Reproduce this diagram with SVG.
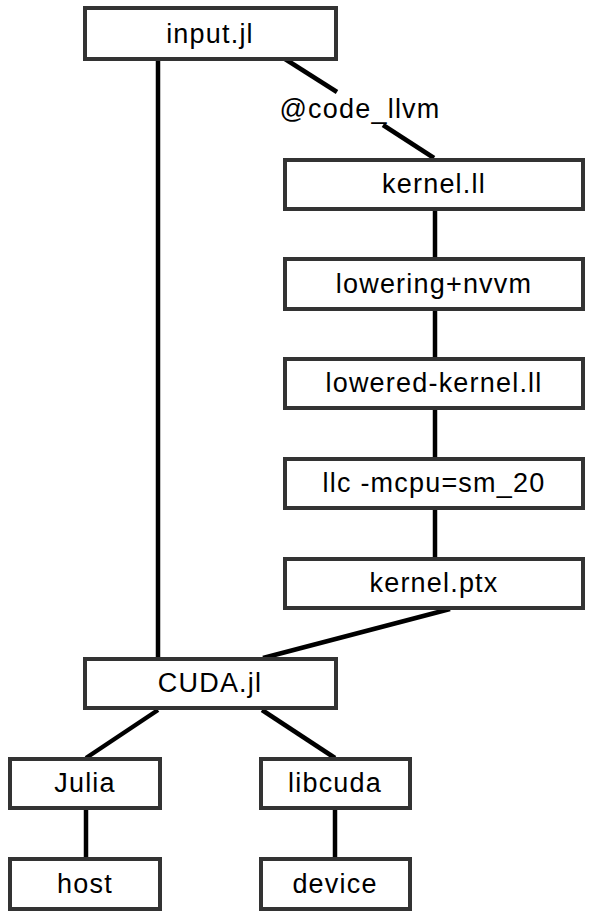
<svg xmlns="http://www.w3.org/2000/svg" width="592" height="916" viewBox="0 0 592 916">
<style>
.box{fill:#fff;stroke:#333;stroke-width:4}
.lbl{font-family:"Liberation Sans",Arial,sans-serif;font-size:27px;letter-spacing:1.2px;text-anchor:middle;fill:#000}
.edge{stroke:#000;stroke-width:4.5;fill:none}
</style>
<rect width="592" height="916" fill="#fff"/>
<g id="connectors">
<line class="edge" x1="158" y1="61" x2="158" y2="657"/>
<line class="edge" x1="285" y1="59" x2="337" y2="92"/>
<line class="edge" x1="383" y1="125" x2="434" y2="158"/>
<text class="lbl" x="360" y="118">@code_llvm</text>
<line class="edge" x1="435" y1="211" x2="435" y2="257"/>
<line class="edge" x1="435" y1="311" x2="435" y2="357"/>
<line class="edge" x1="435" y1="410" x2="435" y2="457"/>
<line class="edge" x1="435" y1="510" x2="435" y2="557"/>
<line class="edge" x1="450" y1="609" x2="263" y2="658"/>
<line class="edge" x1="158" y1="710" x2="86" y2="758"/>
<line class="edge" x1="262" y1="710" x2="335" y2="758"/>
<line class="edge" x1="86" y1="810" x2="86" y2="857"/>
<line class="edge" x1="335" y1="810" x2="335" y2="857"/>
</g>
<g id="input"><rect class="box" x="85" y="8" width="251" height="51"/><text class="lbl" x="210" y="43">input.jl</text></g>
<g id="kernel_ll"><rect class="box" x="285" y="160" width="298" height="49"/><text class="lbl" x="434" y="193">kernel.ll</text></g>
<g id="lowering"><rect class="box" x="285" y="259" width="298" height="50"/><text class="lbl" x="434" y="293">lowering+nvvm</text></g>
<g id="lowered"><rect class="box" x="285" y="359" width="298" height="49"/><text class="lbl" x="434" y="392">lowered-kernel.ll</text></g>
<g id="llc"><rect class="box" x="285" y="459" width="298" height="49"/><text class="lbl" x="434" y="492">llc -mcpu=sm_20</text></g>
<g id="kernel_ptx"><rect class="box" x="285" y="559" width="298" height="49"/><text class="lbl" x="434" y="592">kernel.ptx</text></g>
<g id="cuda"><rect class="box" x="85" y="659" width="251" height="49"/><text class="lbl" x="210" y="692">CUDA.jl</text></g>
<g id="julia"><rect class="box" x="10" y="759" width="150" height="49"/><text class="lbl" x="85" y="792">Julia</text></g>
<g id="libcuda"><rect class="box" x="261" y="759" width="149" height="49"/><text class="lbl" x="335" y="792">libcuda</text></g>
<g id="host"><rect class="box" x="10" y="859" width="150" height="50"/><text class="lbl" x="85" y="893">host</text></g>
<g id="device"><rect class="box" x="261" y="859" width="149" height="50"/><text class="lbl" x="335" y="893">device</text></g>
</svg>
